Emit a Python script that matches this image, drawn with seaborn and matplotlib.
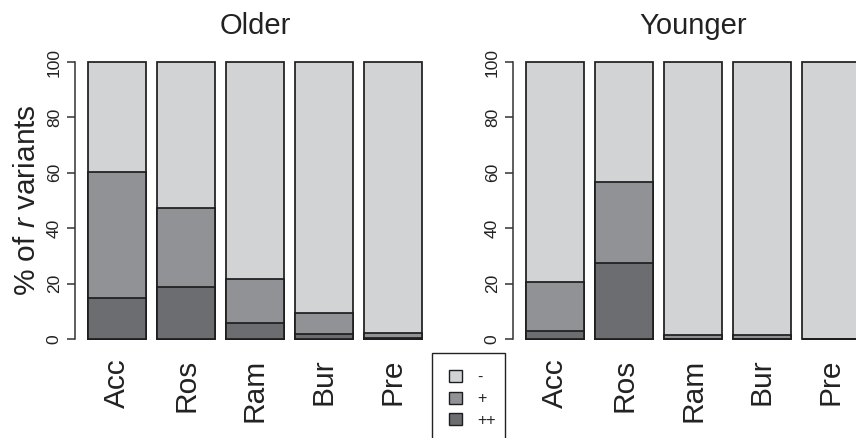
import matplotlib
matplotlib.use("Agg")
import matplotlib.pyplot as plt
from matplotlib.patches import Patch, Rectangle
import seaborn as sns

# Percent of r variants per speaker, split by rating category
sites = ["Acc", "Ros", "Ram", "Bur", "Pre"]

older_pp = [14.8, 18.7, 5.8, 1.8, 0.4]
older_p = [45.6, 28.5, 16.0, 7.7, 1.9]
older_m = [39.6, 52.8, 78.2, 90.5, 97.7]

younger_pp = [2.8, 27.6, 0.0, 0.0, 0.0]
younger_p = [17.8, 29.0, 1.4, 1.4, 0.0]
younger_m = [79.4, 43.4, 98.6, 98.6, 100.0]

legend_labels = ["-", "+", "++"]
colors = {"-": "#d2d3d5", "+": "#919296", "++": "#6c6d71"}
yticks = [0, 20, 40, 60, 80, 100]

sns.set_style("white")
plt.rcParams["font.family"] = ["Liberation Sans", "DejaVu Sans"]
plt.rcParams["mathtext.fontset"] = "custom"
plt.rcParams["mathtext.rm"] = "Liberation Sans"
plt.rcParams["mathtext.it"] = "Liberation Sans:italic"

fig = plt.figure(figsize=(8.56, 4.38), dpi=100)
W, H = 856, 438


def axes_px(x0, y0, x1, y1):
    return fig.add_axes([x0 / W, 1 - y1 / H, (x1 - x0) / W, (y1 - y0) / H])


ax_old = axes_px(75, 51, 435, 350)
ax_young = axes_px(513, 51, 873, 350)

edge = "#1e1e1e"
ink = "#222222"


def stacked(ax, pp, p, m, title):
    top = [a + b + c for a, b, c in zip(pp, p, m)]
    mid = [a + b for a, b in zip(pp, p)]
    for vals, key in ((top, "-"), (mid, "+"), (pp, "++")):
        sns.barplot(x=sites, y=vals, order=sites, color=colors[key],
                    saturation=1, width=1 / 1.2, edgecolor=edge,
                    linewidth=1.25, ax=ax)
    ax.set_xlim(-0.61, 4.61)
    ax.set_ylim(-4, 104)
    ax.set_xlabel("")
    ax.set_ylabel("")
    for s in ("top", "right", "bottom"):
        ax.spines[s].set_visible(False)
    ax.spines["left"].set_bounds(0, 100)
    ax.spines["left"].set_color("#333333")
    ax.spines["left"].set_linewidth(1.1)
    ax.set_yticks(yticks)
    ax.set_yticklabels([str(v) for v in yticks], rotation=90, va="center",
                       fontsize=12.5, color=ink)
    ax.tick_params(axis="y", direction="out", length=5.5, width=1.1,
                   color="#333333", pad=4, left=True)
    ax.tick_params(axis="x", length=0, pad=6)
    ax.set_xticks(range(len(sites)))
    ax.set_xticklabels(sites, rotation=90, fontsize=21.5, color=ink)
    ax.set_title(title, fontsize=21, pad=12, color=ink)


stacked(ax_old, older_pp, older_p, older_m, "Older")
stacked(ax_young, younger_pp, younger_p, younger_m, "Younger")

ax_old.set_ylabel("% of $\\it{r}$ variants", fontsize=21.5, labelpad=4,
                  color=ink)

# Legend box runs off the bottom edge of the figure
fig.patches.append(Rectangle((432 / W, 1 - 450 / H), 73 / W, 97 / H,
                             transform=fig.transFigure, fill=False,
                             edgecolor=ink, linewidth=1.0))

handles = [Patch(facecolor=colors[k], edgecolor=edge, linewidth=1.0)
           for k in legend_labels]
leg = fig.legend(handles, legend_labels, loc="upper left",
                 bbox_to_anchor=(432 / W, 1 - 353 / H),
                 frameon=False, fontsize=11.5,
                 handlelength=0.8, handleheight=0.8, handletextpad=1.0,
                 labelspacing=0.4, borderpad=1.05, borderaxespad=0)
for t in leg.get_texts():
    t.set_color(ink)

fig.savefig("out.png", dpi=100)
